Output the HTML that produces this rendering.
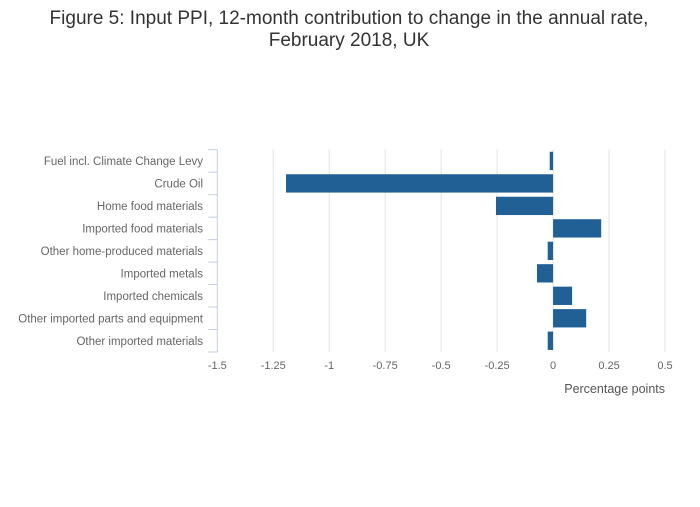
<!DOCTYPE html>
<html><head><meta charset="utf-8"><style>
body{margin:0;background:#fff;width:700px;height:502px;overflow:hidden;font-family:"Liberation Sans",sans-serif}
</style></head><body>
<svg width="700" height="502" id="c">
<text x="349" y="24" text-anchor="middle" font-size="19" fill="#333">Figure 5: Input PPI, 12-month contribution to change in the annual rate,</text>
<text x="349" y="46" text-anchor="middle" font-size="19" fill="#333">February 2018, UK</text>
<text x="665" y="393" text-anchor="end" font-size="12.5" fill="#555">Percentage points</text>
</svg>
<script>
const categories=["Fuel incl. Climate Change Levy","Crude Oil","Home food materials","Imported food materials","Other home-produced materials","Imported metals","Imported chemicals","Other imported parts and equipment","Other imported materials"];
const values=[-0.015,-1.193,-0.255,0.215,-0.024,-0.072,0.085,0.148,-0.024];
const ticks=[-1.5,-1.25,-1,-0.75,-0.5,-0.25,0,0.25,0.5];
const tickLabels=["-1.5","-1.25","-1","-0.75","-0.5","-0.25","0","0.25","0.5"];
const svg=document.getElementById('c');const NS='http://www.w3.org/2000/svg';
const x0=217.3,x1=665,yTop=149.7,yBot=352;
const xs=v=>x0+(v+1.5)/2*(x1-x0);
const band=(yBot-yTop)/categories.length;
function mk(t,a){const e=document.createElementNS(NS,t);for(const k in a)e.setAttribute(k,a[k]);svg.appendChild(e);return e;}
ticks.forEach((t,i)=>{
 if(i>0){const g=mk('line',{x1:xs(t),x2:xs(t),y1:yTop,y2:yBot,stroke:'#e3e3e3','stroke-width':1});
 
 }
 const l=mk('text',{x:xs(t),y:369,'text-anchor':'middle','font-size':11,fill:'#666'});l.textContent=tickLabels[i];
 
 
});
const ax=mk('line',{x1:x0,x2:x0,y1:yTop,y2:yBot,stroke:'#c5cfe3','stroke-width':1});


for(let i=0;i<=categories.length;i++){const y=yTop+i*band;
 const t=mk('line',{x1:x0-9,x2:x0,y1:y,y2:y,stroke:'#c5cfe3','stroke-width':1});
 
 }
categories.forEach((c,i)=>{
 const yc=yTop+(i+0.5)*band,h=band*0.815,v=values[i];
 const r=mk('rect',{x:Math.min(xs(0),xs(v)),y:yc-h/2,width:Math.abs(xs(v)-xs(0)),height:h,fill:'#206095'});
 
 
 const l=mk('text',{x:203,y:yc+4,'text-anchor':'end','font-size':11.5,fill:'#666'});l.textContent=c;
 
 
});
</script>
</body></html>
